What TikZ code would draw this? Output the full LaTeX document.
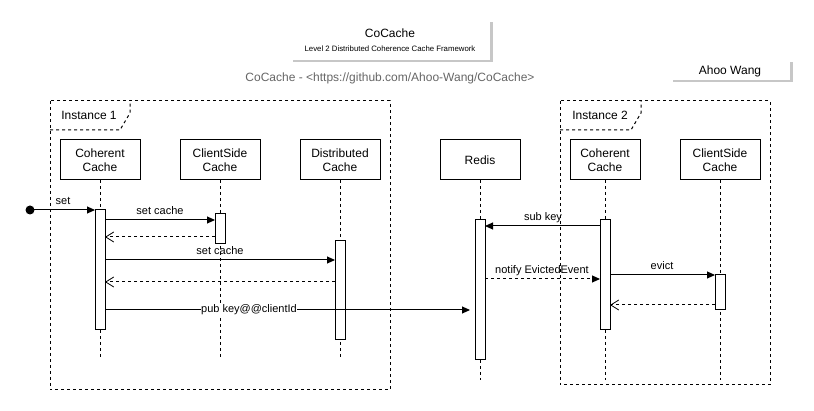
\documentclass[tikz,border=0pt]{standalone}
\usepackage{fontspec}
\setmainfont{Liberation Sans}
\usetikzlibrary{arrows.meta}
\begin{document}
\begin{tikzpicture}[x=1pt,y=-1pt,
  every node/.style={inner sep=0pt, outer sep=0pt},
  head/.style={draw, line width=1pt, fill=white, minimum height=40pt, align=center, font=\fontsize{12}{14}\selectfont},
  act/.style={draw, line width=1pt, fill=white, minimum width=10pt},
  life/.style={line width=1pt, dash pattern=on 3pt off 3pt},
  frame/.style={line width=1pt, dash pattern=on 3pt off 3pt},
  msg/.style={line width=1pt, -{Triangle[length=8pt,width=7pt]}},
  dmsg/.style={line width=1pt, dash pattern=on 3pt off 3pt, -{Triangle[length=8pt,width=7pt]}},
  ret/.style={line width=1pt, dash pattern=on 3pt off 3pt, -{Straight Barb[length=8pt,width=10pt,line width=0.8pt]}},
  lbl/.style={font=\fontsize{11}{13}\selectfont, anchor=base},
  shadowbox/.style={fill=black!22, draw=none},
]
\useasboundingbox (0,0) rectangle (814,411);
\fill[white] (0,0) rectangle (814,411);

% title box
\node[shadowbox, minimum width=200pt, minimum height=40pt] (titleshadow) at (392.5,42.5) {};
\node[fill=white, minimum width=200pt, minimum height=40pt] (titlebox) at (390,40) {};
\node[font=\fontsize{12}{14}\selectfont] (title) at (390,33) {CoCache};
\node[font=\fontsize{7.8}{9}\selectfont] (subtitle) at (390,49) {Level 2 Distributed Coherence Cache Framework};
\node[font=\fontsize{12}{14}\selectfont, text=black!60] (link) at (390,78) {CoCache - <https://github.com/Ahoo-Wang/CoCache>};

% author box
\node[shadowbox, minimum width=120pt, minimum height=20pt] (authorshadow) at (732.5,72.5) {};
\node[fill=white, minimum width=120pt, minimum height=20pt] (authorbox) at (730,70) {};
\node[font=\fontsize{12}{14}\selectfont] (author) at (730,71) {Ahoo Wang};

% frames
\draw[frame] (50,101) rectangle (390,390);
\draw[frame] (50,130) -- (120,130) -- (130,113) -- (130,101);
\node[font=\fontsize{12}{14}\selectfont] (inst1) at (89,115) {Instance 1};
\draw[frame] (560,101) rectangle (770,385);
\draw[frame] (560,130) -- (631,130) -- (641,113) -- (641,101);
\node[font=\fontsize{12}{14}\selectfont] (inst2) at (600,115) {Instance 2};

% heads
\node[head, minimum width=80pt] (cc1) at (100,160) {Coherent\\Cache};
\node[head, minimum width=80pt] (cs1) at (220,160) {ClientSide\\Cache};
\node[head, minimum width=80pt] (dc) at (340,160) {Distributed\\Cache};
\node[head, minimum width=80pt] (redis) at (480,160) {Redis};
\node[head, minimum width=70pt] (cc2) at (605,160) {Coherent\\Cache};
\node[head, minimum width=80pt] (cs2) at (720,160) {ClientSide\\Cache};

% lifeline ends
\coordinate (cc1e) at (100,357);
\coordinate (cs1e) at (220,357);
\coordinate (dce) at (340,357);
\coordinate (redise) at (480,380);
\coordinate (cc2e) at (605,380);
\coordinate (cs2e) at (720,380);
\draw[life] (cc1.south) -- (cc1e);
\draw[life] (cs1.south) -- (cs1e);
\draw[life] (dc.south) -- (dce);
\draw[life] (redis.south) -- (redise);
\draw[life] (cc2.south) -- (cc2e);
\draw[life] (cs2.south) -- (cs2e);

% activations
\node[act, minimum height=120pt] (a1) at (100,270) {};
\node[act, minimum height=30pt] (a2) at (220,229) {};
\node[act, minimum height=99pt] (a3) at (340,290.5) {};
\node[act, minimum height=140pt] (a4) at (480,290) {};
\node[act, minimum height=110pt] (a5) at (605,275) {};
\node[act, minimum height=35pt] (a6) at (720,292.5) {};

% start dot
\fill (30,210) circle (4.5pt);
\coordinate (start) at (30,210);
\draw[msg] (start) -- (a1.west |- start);
\node[lbl] (lset) at (63,205) {set};

% messages
\coordinate (m1) at (0,220);
\draw[msg] (a1.east |- m1) -- (a2.west |- m1);
\node[lbl] (lm1) at (160,215) {set cache};

\coordinate (r1) at (0,237);
\draw[ret] (a2.west |- r1) -- (a1.east |- r1);

\coordinate (m2) at (0,260);
\draw[msg] (a1.east |- m2) -- (a3.west |- m2);
\node[lbl] (lm2) at (220,255) {set cache};

\coordinate (r2) at (0,282);
\draw[ret] (a3.west |- r2) -- (a1.east |- r2);

\coordinate (m3) at (470,310);
\draw[msg] (a1.east |- m3) -- (m3);
\node[font=\fontsize{11}{13}\selectfont, fill=white, inner xsep=0.5pt, inner ysep=1pt] (lm3) at (249,310) {pub key@@clientId};

\coordinate (m4) at (0,226);
\draw[msg] (a5.west |- m4) -- (a4.east |- m4);
\node[lbl] (lm4) at (543,221) {sub key};

\coordinate (m5) at (0,279);
\draw[dmsg] (a4.east |- m5) -- (a5.west |- m5);
\node[lbl] (lm5) at (542,274) {notify EvictedEvent};

\coordinate (m6) at (0,275);
\draw[msg] (a5.east |- m6) -- (a6.west |- m6);
\node[lbl] (lm6) at (662,270) {evict};

\coordinate (r3) at (0,305);
\draw[ret] (a6.west |- r3) -- (a5.east |- r3);
\end{tikzpicture}
\end{document}
